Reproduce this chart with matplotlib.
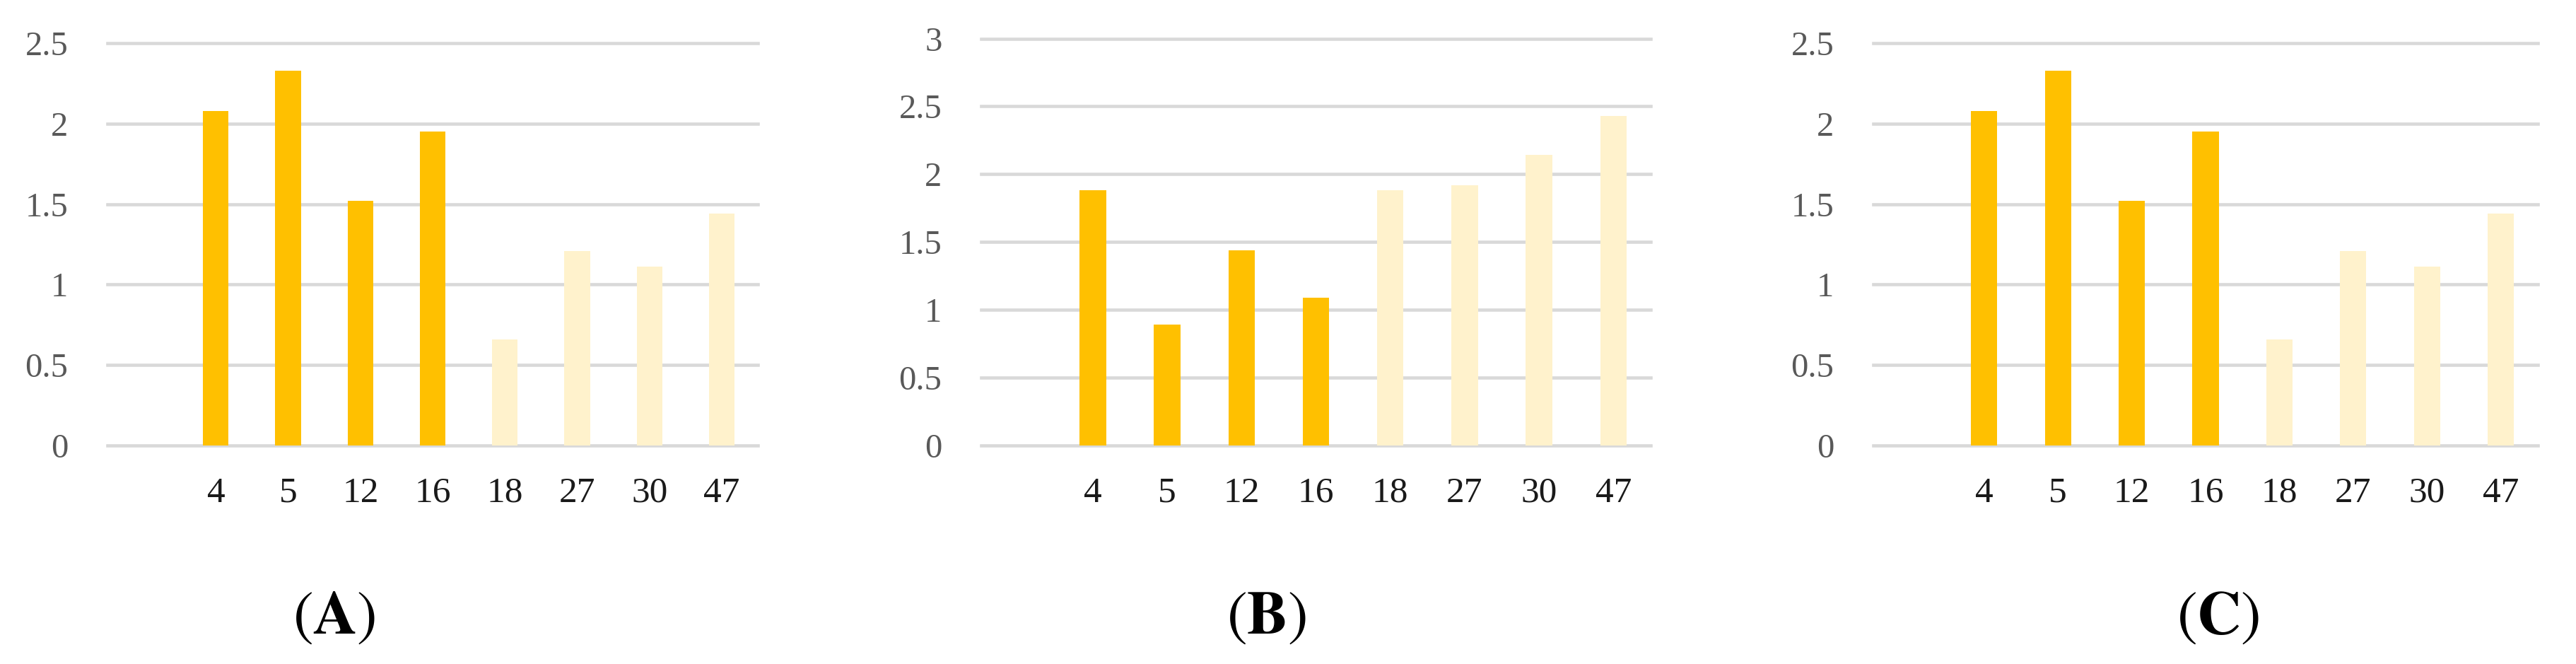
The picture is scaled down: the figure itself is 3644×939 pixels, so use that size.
import matplotlib
matplotlib.use("Agg")
import matplotlib.pyplot as plt

# ---- data ----
categories = ["", "4", "5", "12", "16", "18", "27", "30", "47"]
values_A = [0, 2.08, 2.33, 1.52, 1.95, 0.66, 1.21, 1.11, 1.44]
values_B = [0, 1.88, 0.89, 1.44, 1.09, 1.88, 1.92, 2.14, 2.43]
values_C = [0, 2.08, 2.33, 1.52, 1.95, 0.66, 1.21, 1.11, 1.44]
bar_groups = ["none", "dark", "dark", "dark", "dark", "light", "light", "light", "light"]
yticks_A = [0, 0.5, 1, 1.5, 2, 2.5]
yticks_B = [0, 0.5, 1, 1.5, 2, 2.5, 3]
yticks_C = [0, 0.5, 1, 1.5, 2, 2.5]
panel_labels = ["A", "B", "C"]

colors = {"none": "none", "dark": "#FFC000", "light": "#FFF2CC"}

W, H = 3644, 939
fig = plt.figure(figsize=(W / 100, H / 100), dpi=100)
plt.rcParams["mathtext.fontset"] = "stix"

# pixel boxes: left, right, top(y of max tick), bottom(y of 0)
boxes = [(152, 1072, 61, 630), (1388, 2335, 54.5, 630), (2650, 3590, 61, 630)]
datasets = [values_A, values_B, values_C]
tick_sets = [yticks_A, yticks_B, yticks_C]
label_pos = [(473, 872), (1791, 872), (3138, 872)]


def fmt(v):
    return f"{v:g}"


for (l, r, t, b), vals, ticks, lab, (lx, ly) in zip(boxes, datasets, tick_sets, panel_labels, label_pos):
    ax = fig.add_axes([l / W, 1 - b / H, (r - l) / W, (b - t) / H])
    x = list(range(len(categories)))
    ax.bar(x, vals, width=0.355, color=[colors[g] for g in bar_groups], zorder=3)
    ax.set_xlim(-0.5, len(categories) - 0.5)
    ax.set_ylim(0, ticks[-1])
    ax.set_yticks(ticks)
    ax.set_yticklabels([fmt(v) for v in ticks], fontfamily="Liberation Serif",
                       fontsize=35, color="#595959")
    ax.set_xticks(x)
    ax.set_xticklabels(categories, fontfamily="Liberation Serif", fontsize=37,
                       color="#1a1a1a")
    ax.tick_params(axis="y", length=0, pad=40)
    ax.tick_params(axis="x", length=0, pad=32)
    for s in ax.spines.values():
        s.set_visible(False)
    ax.set_axisbelow(True)
    ax.yaxis.grid(True, color="#D9D9D9", linewidth=3.3)
    for gl in ax.get_ygridlines():
        gl.set_clip_on(False)
    ax.set_facecolor("none")
    fig.text(lx / W, 1 - ly / H, r"$\mathrm{(}\mathbf{" + lab + r"}\mathrm{)}$",
             fontsize=62, ha="center", va="center", color="black")

fig.savefig("out.png", dpi=100, facecolor="white")
